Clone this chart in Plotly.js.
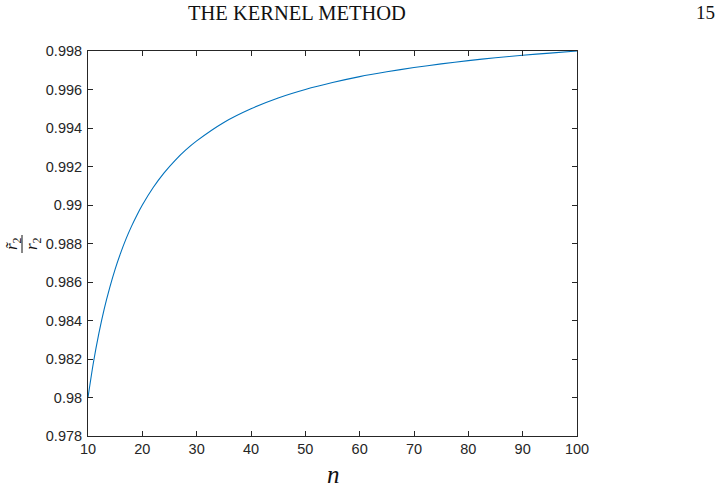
<!DOCTYPE html>
<html>
<head>
<meta charset="utf-8">
<script src="https://cdn.plot.ly/plotly-3.0.1.min.js"></script>
<style>html,body{margin:0;padding:0;background:#fff;}#chart{width:719px;height:489px;}</style>
</head>
<body>
<div id="chart"></div>
<script>
const nValues = [10, 11, 12, 13, 14, 15, 16, 17, 18, 19, 20, 22, 24, 26, 28, 30, 35, 40, 45, 50, 55, 60, 65, 70, 75, 80, 85, 90, 95, 100];
const ratioValues = [0.98000, 0.98182, 0.98333, 0.98462, 0.98571, 0.98667, 0.98750, 0.98824, 0.98889, 0.98947, 0.99000, 0.99091, 0.99167, 0.99231, 0.99286, 0.99333, 0.99429, 0.99500, 0.99556, 0.99600, 0.99636, 0.99667, 0.99692, 0.99714, 0.99733, 0.99750, 0.99765, 0.99778, 0.99789, 0.99800];
const xTicks = [10, 20, 30, 40, 50, 60, 70, 80, 90, 100];
const yTicks = [0.978, 0.98, 0.982, 0.984, 0.986, 0.988, 0.99, 0.992, 0.994, 0.996, 0.998];
const yTickText = ['0.978', '0.98', '0.982', '0.984', '0.986', '0.988', '0.99', '0.992', '0.994', '0.996', '0.998'];
const headerText = 'THE KERNEL METHOD';
const pageNumber = '15';

const PW = 489, PH = 385, L = 88, T = 51;
const px = v => (v - L) / PW;
const py = v => (T + PH - v) / PH;

const axisCommon = {
  showgrid: false, zeroline: false, showline: true, mirror: 'ticks',
  linecolor: '#262626', linewidth: 1, ticks: 'inside', ticklen: 5,
  tickcolor: '#262626', tickwidth: 1,
  tickfont: {family: 'Liberation Sans, Arial, sans-serif', size: 14.5, color: '#262626'}
};

const trace = {
  x: nValues, y: ratioValues, type: 'scatter', mode: 'lines',
  line: {color: '#0072BD', width: 1.1, shape: 'spline', smoothing: 0.8}, hoverinfo: 'skip'
};

const serif = 'Liberation Serif, DejaVu Serif, serif';
const layout = {
  width: 719, height: 489,
  margin: {l: L, r: 719 - L - PW, t: T, b: 489 - T - PH},
  paper_bgcolor: '#fff', plot_bgcolor: '#fff', showlegend: false,
  xaxis: Object.assign({}, axisCommon, {range: [10, 100], tickvals: xTicks, ticktext: xTicks.map(String)}),
  yaxis: Object.assign({}, axisCommon, {range: [0.978, 0.998], tickvals: yTicks, ticktext: yTickText, ticklabelstandoff: 2}),
  annotations: [
    {text: headerText, xref: 'paper', yref: 'paper', x: px(297), y: py(13), xanchor: 'center', yanchor: 'middle', showarrow: false,
     font: {family: serif, size: 20.5, color: '#111'}},
    {text: pageNumber, xref: 'paper', yref: 'paper', x: px(705), y: py(13), xanchor: 'center', yanchor: 'middle', showarrow: false,
     font: {family: serif, size: 19, color: '#111'}},
    {text: '<i>n</i>', xref: 'paper', yref: 'paper', x: px(333), y: py(475), xanchor: 'center', yanchor: 'middle', showarrow: false,
     font: {family: serif, size: 25, color: '#111'}},
    {text: '<i>r̃</i><sub>2</sub>', xref: 'paper', yref: 'paper', x: px(13), y: py(244), xanchor: 'center', yanchor: 'middle', showarrow: false, textangle: -90,
     font: {family: serif, size: 17, color: '#111'}},
    {text: '<i>r</i><sub>2</sub>', xref: 'paper', yref: 'paper', x: px(33), y: py(244), xanchor: 'center', yanchor: 'middle', showarrow: false, textangle: -90,
     font: {family: serif, size: 17, color: '#111'}}
  ],
  shapes: [
    {type: 'line', xref: 'paper', yref: 'paper', x0: px(22), x1: px(22), y0: py(253), y1: py(235),
     line: {color: '#111', width: 1}}
  ]
};

Plotly.newPlot('chart', [trace], layout, {staticPlot: true, displayModeBar: false});
</script>
</body>
</html>
